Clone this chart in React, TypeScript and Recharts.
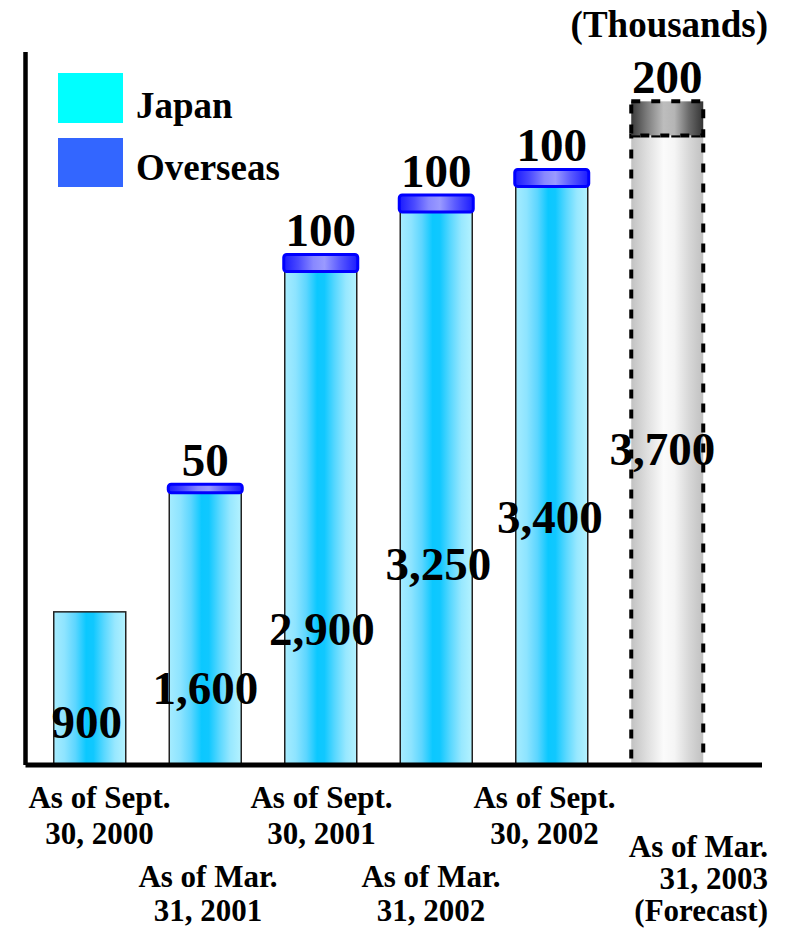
import React from 'react';
import { BarChart, Bar, XAxis, YAxis, LabelList, Legend } from 'recharts';

// Subscribers (thousands) at each reporting date
const CATEGORIES: string[] = [
  'As of Sept.\n30, 2000',
  'As of Mar.\n31, 2001',
  'As of Sept.\n30, 2001',
  'As of Mar.\n31, 2002',
  'As of Sept.\n30, 2002',
  'As of Mar.\n31, 2003\n(Forecast)',
];
const JAPAN: number[] = [900, 1600, 2900, 3250, 3400, 3700];
const OVERSEAS: number[] = [0, 50, 100, 100, 100, 200];
const FORECAST: boolean[] = [false, false, false, false, false, true];

const data = CATEGORIES.map((category, i) => ({
  category,
  japan: JAPAN[i],
  overseas: OVERSEAS[i],
  forecast: FORECAST[i],
}));

const FONT = "'Liberation Serif', 'Times New Roman', Times, serif";

// Where the Japan value sits, measured up from the bar's base, and a small sideways nudge
const JAPAN_LABEL_LIFT = [27, 61, 120, 185, 232, 300];
const JAPAN_LABEL_SHIFT = [-3, 0, 1, 2, -2, -5];

// Placement of the multi-line date labels under the axis
const TICK_LAYOUT = [
  { dx: 10, baseline: 808, lineGap: 36, anchor: 'middle' },
  { dx: 3, baseline: 887, lineGap: 34, anchor: 'middle' },
  { dx: 1, baseline: 808, lineGap: 36, anchor: 'middle' },
  { dx: -5, baseline: 887, lineGap: 34, anchor: 'middle' },
  { dx: -7, baseline: 808, lineGap: 36, anchor: 'middle' },
  { dx: 101, baseline: 857, lineGap: 32, anchor: 'end' },
];

const fmt = (v: number) => v.toLocaleString('en-US');

const JapanShape = (props: any) => {
  const { x, y, width, height, payload } = props;
  if (!height || height <= 0) return null;
  if (payload && payload.forecast) {
    return (
      <rect
        x={x}
        y={y}
        width={width}
        height={height}
        fill="url(#forecastJapanFill)"
        stroke="#000"
        strokeWidth={4}
        strokeDasharray="9 11"
      />
    );
  }
  return (
    <rect x={x} y={y} width={width} height={height} fill="url(#japanFill)" stroke="#222" strokeWidth={1.5} />
  );
};

const OverseasShape = (props: any) => {
  const { x, y, width, height, payload } = props;
  if (!height || height <= 0) return null;
  if (payload && payload.forecast) {
    return (
      <rect
        x={x}
        y={y}
        width={width}
        height={height}
        fill="url(#forecastOverseasFill)"
        stroke="#000"
        strokeWidth={4}
        strokeDasharray="9 11"
      />
    );
  }
  return (
    <rect
      x={x - 1}
      y={y}
      width={width + 2}
      height={height}
      rx={3}
      ry={3}
      fill="url(#overseasFill)"
      stroke="#0000ff"
      strokeWidth={3}
    />
  );
};

const JapanLabel = (props: any) => {
  const { x, y, width, height, value, index } = props;
  const base = y + height;
  return (
    <text
      x={x + width / 2 + JAPAN_LABEL_SHIFT[index]}
      y={base - JAPAN_LABEL_LIFT[index]}
      textAnchor="middle"
      fontFamily={FONT}
      fontWeight="bold"
      fontSize={47}
      fill="#000"
    >
      {fmt(value)}
    </text>
  );
};

const OverseasLabel = (props: any) => {
  const { x, y, width, value } = props;
  if (!value) return null;
  return (
    <text
      x={x + width / 2}
      y={y - 8}
      textAnchor="middle"
      fontFamily={FONT}
      fontWeight="bold"
      fontSize={47}
      fill="#000"
    >
      {fmt(value)}
    </text>
  );
};

const CategoryTick = (props: any) => {
  const { x, payload } = props;
  const i = payload.index;
  const layout = TICK_LAYOUT[i];
  const lines = String(payload.value).split('\n');
  return (
    <text
      x={x + layout.dx}
      y={layout.baseline}
      textAnchor={layout.anchor}
      fontFamily={FONT}
      fontWeight="bold"
      fontSize={31}
      fill="#000"
    >
      {lines.map((line, k) => (
        <tspan key={k} x={x + layout.dx} y={layout.baseline + k * layout.lineGap}>
          {line}
        </tspan>
      ))}
    </text>
  );
};

const LegendContent = () => (
  <svg width={260} height={120}>
    <rect x={0} y={0} width={65} height={50} fill="#00ffff" />
    <text x={78} y={45} fontFamily={FONT} fontWeight="bold" fontSize={37} fill="#000">
      Japan
    </text>
    <rect x={0} y={65} width={65} height={49} fill="#3366ff" />
    <text x={78} y={107} fontFamily={FONT} fontWeight="bold" fontSize={37} fill="#000">
      Overseas
    </text>
  </svg>
);

export default function App() {
  return (
    <div style={{ position: 'absolute', left: 0, top: 0, width: 787, height: 929, background: '#fff' }}>
      <BarChart
        width={787}
        height={929}
        data={data}
        margin={{ top: 52, right: 25, bottom: 0, left: 24.5 }}
        barSize={72}
      >
        <defs>
          <linearGradient id="japanFill" x1="0" y1="0" x2="1" y2="0">
            <stop offset="0" stopColor="#a6ecff" />
            <stop offset="0.15" stopColor="#8ee4ff" />
            <stop offset="0.3" stopColor="#5dd6ff" />
            <stop offset="0.45" stopColor="#0bc8ff" />
            <stop offset="0.55" stopColor="#10c8ff" />
            <stop offset="0.7" stopColor="#5ad8ff" />
            <stop offset="0.85" stopColor="#98e8ff" />
            <stop offset="1" stopColor="#b4f2ff" />
          </linearGradient>
          <linearGradient id="overseasFill" x1="0" y1="0" x2="1" y2="0">
            <stop offset="0" stopColor="#1a1aff" />
            <stop offset="0.2" stopColor="#4a4aff" />
            <stop offset="0.4" stopColor="#8888ff" />
            <stop offset="0.55" stopColor="#9a9aff" />
            <stop offset="0.75" stopColor="#5c5cff" />
            <stop offset="1" stopColor="#1a1aff" />
          </linearGradient>
          <linearGradient id="forecastJapanFill" x1="0" y1="0" x2="1" y2="0">
            <stop offset="0" stopColor="#c2c2c2" />
            <stop offset="0.2" stopColor="#dcdcdc" />
            <stop offset="0.45" stopColor="#fbfbfb" />
            <stop offset="0.6" stopColor="#f5f5f5" />
            <stop offset="0.8" stopColor="#d8d8d8" />
            <stop offset="1" stopColor="#c0c0c0" />
          </linearGradient>
          <linearGradient id="forecastOverseasFill" x1="0" y1="0" x2="1" y2="0">
            <stop offset="0" stopColor="#3a3a3a" />
            <stop offset="0.2" stopColor="#777777" />
            <stop offset="0.45" stopColor="#bdbdbd" />
            <stop offset="0.6" stopColor="#b5b5b5" />
            <stop offset="0.8" stopColor="#6a6a6a" />
            <stop offset="1" stopColor="#333333" />
          </linearGradient>
        </defs>
        <XAxis
          dataKey="category"
          height={164}
          interval={0}
          tickLine={false}
          axisLine={{ stroke: '#000', strokeWidth: 5 }}
          padding={{ left: 6.25, right: 37.25 }}
          tick={<CategoryTick />}
        />
        <YAxis
          width={1}
          domain={[0, 4190]}
          tick={false}
          tickLine={false}
          axisLine={{ stroke: '#000', strokeWidth: 4.5 }}
        />
        <Legend
          layout="vertical"
          align="center"
          verticalAlign="middle"
          content={<LegendContent />}
          wrapperStyle={{ position: 'absolute', left: 58, top: 73, width: 260, height: 120 }}
        />
        <Bar dataKey="japan" stackId="subs" shape={<JapanShape />} isAnimationActive={false}>
          <LabelList dataKey="japan" content={<JapanLabel />} />
        </Bar>
        <Bar dataKey="overseas" stackId="subs" shape={<OverseasShape />} isAnimationActive={false}>
          <LabelList dataKey="overseas" content={<OverseasLabel />} />
        </Bar>
      </BarChart>
      <svg
        width={787}
        height={50}
        style={{ position: 'absolute', left: 0, top: 0, pointerEvents: 'none' }}
      >
        <text x={768} y={37} textAnchor="end" fontFamily={FONT} fontWeight="bold" fontSize={37} fill="#000">
          (Thousands)
        </text>
      </svg>
    </div>
  );
}
